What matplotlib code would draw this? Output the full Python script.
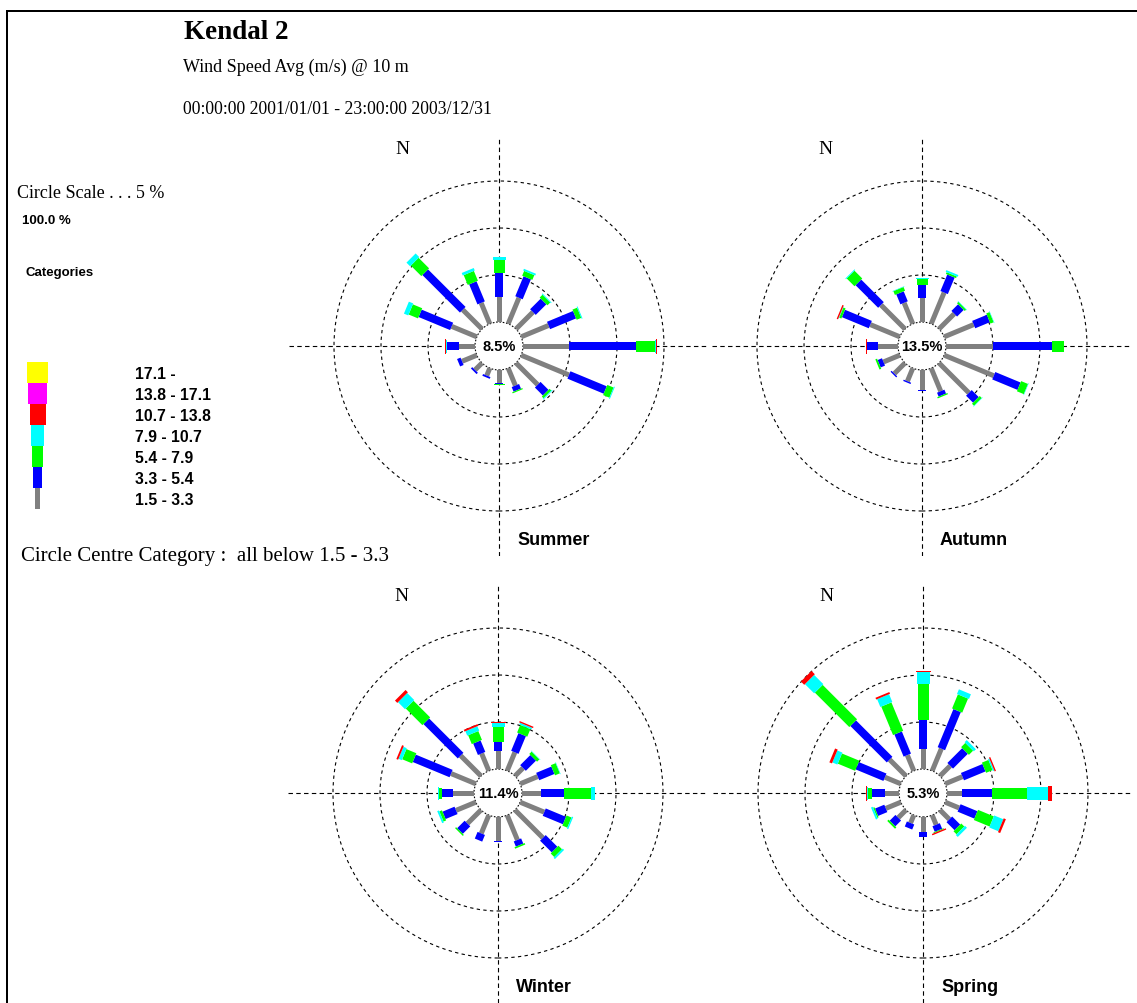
import numpy as np
import matplotlib
matplotlib.use("Agg")
import matplotlib.pyplot as plt
from matplotlib.patches import Circle, Polygon, Rectangle

W, H = 1137, 1004

DIRECTIONS = ["N", "NNE", "NE", "ENE", "E", "ESE", "SE", "SSE",
              "S", "SSW", "SW", "WSW", "W", "WNW", "NW", "NNW"]

# speed classes, fastest first (legend order)
CATEGORY_LABELS = ["17.1 -", "13.8 - 17.1", "10.7 - 13.8", "7.9 - 10.7",
                   "5.4 - 7.9", "3.3 - 5.4", "1.5 - 3.3"]
CATEGORY_COLORS = ["#ffff00", "#ff00ff", "#ff0000", "#00ffff",
                   "#00ff00", "#0000ff", "#808080"]

SEASONS = ["Summer", "Autumn", "Winter", "Spring"]
CALM = [8.5, 13.5, 11.4, 5.3]

# frequency (%) per direction, classes 1.5-3.3, 3.3-5.4, 5.4-7.9, 7.9-10.7, 10.7-13.8
SUMMER = [
    [2.66, 2.55, 1.40, 0.30, 0.00],
    [3.00, 2.30, 0.55, 0.20, 0.00],
    [2.55, 1.60, 0.42, 0.10, 0.00],
    [3.15, 3.00, 0.53, 0.10, 0.00],
    [4.93, 7.10, 2.00, 0.10, 0.10],
    [5.50, 4.18, 0.72, 0.10, 0.00],
    [3.27, 1.20, 0.25, 0.10, 0.00],
    [2.00, 0.53, 0.13, 0.00, 0.00],
    [1.38, 0.10, 0.08, 0.00, 0.00],
    [0.85, 0.20, 0.00, 0.00, 0.00],
    [1.05, 0.20, 0.00, 0.00, 0.00],
    [1.70, 0.40, 0.00, 0.00, 0.00],
    [1.70, 1.24, 0.05, 0.05, 0.10],
    [2.90, 3.63, 1.08, 0.50, 0.00],
    [2.90, 5.65, 1.58, 0.55, 0.00],
    [2.41, 2.31, 1.13, 0.29, 0.00],
]
AUTUMN = [
    [2.60, 1.34, 0.60, 0.14, 0.00],
    [3.60, 1.90, 0.20, 0.20, 0.00],
    [2.30, 1.00, 0.20, 0.05, 0.00],
    [3.40, 1.69, 0.37, 0.05, 0.00],
    [5.03, 6.25, 1.31, 0.00, 0.00],
    [5.71, 2.91, 0.79, 0.05, 0.00],
    [4.50, 1.05, 0.30, 0.05, 0.00],
    [2.65, 0.45, 0.14, 0.00, 0.00],
    [2.16, 0.10, 0.00, 0.00, 0.00],
    [1.50, 0.15, 0.00, 0.00, 0.00],
    [1.60, 0.15, 0.00, 0.00, 0.00],
    [1.88, 0.50, 0.20, 0.00, 0.00],
    [2.10, 1.17, 0.05, 0.00, 0.12],
    [3.40, 3.09, 0.25, 0.05, 0.15],
    [3.62, 3.40, 1.17, 0.10, 0.00],
    [2.42, 1.15, 0.43, 0.05, 0.00],
]
WINTER = [
    [1.88, 0.99, 1.57, 0.45, 0.12],
    [2.13, 2.04, 0.88, 0.20, 0.15],
    [1.21, 1.53, 0.35, 0.05, 0.00],
    [2.02, 1.75, 0.56, 0.05, 0.00],
    [1.99, 2.48, 2.90, 0.36, 0.00],
    [2.77, 2.33, 0.57, 0.15, 0.00],
    [4.20, 1.76, 0.54, 0.20, 0.00],
    [2.85, 0.60, 0.17, 0.00, 0.00],
    [2.52, 0.10, 0.00, 0.00, 0.00],
    [2.10, 0.77, 0.00, 0.00, 0.00],
    [2.04, 1.13, 0.15, 0.00, 0.00],
    [2.28, 1.38, 0.30, 0.20, 0.00],
    [2.27, 1.13, 0.28, 0.15, 0.00],
    [2.85, 4.24, 1.15, 0.38, 0.20],
    [3.07, 5.17, 2.50, 1.06, 0.35],
    [2.00, 1.32, 1.02, 0.51, 0.20],
]
SPRING = [
    [2.16, 3.02, 3.86, 1.25, 0.12],
    [2.55, 4.39, 1.62, 0.54, 0.00],
    [1.54, 2.23, 0.63, 0.32, 0.00],
    [1.99, 2.48, 0.75, 0.15, 0.15],
    [1.60, 3.19, 3.69, 2.23, 0.43],
    [1.60, 1.94, 1.82, 1.05, 0.25],
    [1.41, 1.21, 0.45, 0.30, 0.00],
    [1.10, 0.64, 0.10, 0.00, 0.15],
    [1.56, 0.53, 0.00, 0.00, 0.00],
    [0.90, 0.58, 0.00, 0.00, 0.00],
    [1.17, 0.87, 0.20, 0.00, 0.00],
    [1.73, 1.07, 0.15, 0.20, 0.00],
    [1.49, 1.41, 0.36, 0.10, 0.12],
    [1.83, 3.19, 2.00, 0.58, 0.30],
    [2.47, 5.48, 5.18, 1.39, 0.50],
    [1.81, 2.55, 3.28, 0.90, 0.20],
]
SEASON_DATA = [SUMMER, AUTUMN, WINTER, SPRING]

# layout (pixels)
CENTRES = [(499, 347), (922, 347), (498, 794), (923, 794)]
PX_PER_PCT = 9.4
CALM_PX = 24
HALF_PX = 210
RING_STEP = 5
BAR_PX = [5, 8, 11, 13, 15]          # slowest class first
LEGEND_PX = [21, 19, 16, 13, 11, 9, 5]

SERIF = "Liberation Serif"
SANS = "Liberation Sans"
PT = 0.72  # points per pixel at 100 dpi


def bar_segment(theta, r0, r1, half_w):
    ux, uy = np.sin(theta), np.cos(theta)
    nx_, ny_ = np.cos(theta), -np.sin(theta)
    return [(ux * r0 + nx_ * half_w, uy * r0 + ny_ * half_w),
            (ux * r1 + nx_ * half_w, uy * r1 + ny_ * half_w),
            (ux * r1 - nx_ * half_w, uy * r1 - ny_ * half_w),
            (ux * r0 - nx_ * half_w, uy * r0 - ny_ * half_w)]


def draw_rose(fig, centre, data, calm):
    cx, cy = centre
    ax = fig.add_axes([(cx - HALF_PX) / W, 1 - (cy + HALF_PX) / H,
                       2 * HALF_PX / W, 2 * HALF_PX / H])
    ax.set_facecolor("none")
    ax.axis("off")
    ext = HALF_PX / PX_PER_PCT
    ax.set_xlim(-ext, ext)
    ax.set_ylim(-ext, ext)

    r_calm = CALM_PX / PX_PER_PCT
    ax.plot([-ext, ext], [0, 0], color="black", lw=0.8, ls=(0, (4, 3)), zorder=1)
    ax.plot([0, 0], [-ext, ext], color="black", lw=0.8, ls=(0, (4, 3)), zorder=1)
    for k in range(1, 4):
        ax.add_patch(Circle((0, 0), r_calm + RING_STEP * k, fill=False,
                            ec="black", lw=0.8, ls=(0, (3, 3)), zorder=1))

    colors = CATEGORY_COLORS[::-1]
    for i, row in enumerate(data):
        theta = np.radians(22.5 * i)
        r = r_calm
        for j, v in enumerate(row):
            if v <= 0:
                continue
            half_w = BAR_PX[j] / 2 / PX_PER_PCT
            ax.add_patch(Polygon(bar_segment(theta, r, r + v, half_w),
                                 closed=True, fc=colors[j], ec="none", zorder=3))
            r += v

    ax.add_patch(Circle((0, 0), r_calm, fc="white", ec="black", lw=0.8,
                        ls=(0, (1.5, 1.5)), zorder=2))
    ax.text(0, 0, f"{calm}%", ha="center", va="center", family=SANS,
            weight="bold", fontsize=10.5, zorder=5)
    return ax


fig = plt.figure(figsize=(W / 100, H / 100), dpi=100)
canvas = fig.add_axes([0, 0, 1, 1])
canvas.set_xlim(0, W)
canvas.set_ylim(H, 0)
canvas.axis("off")

# frame
canvas.plot([7, W], [12, 12], color="black", lw=2 * PT)
canvas.plot([7, 7], [12, H], color="black", lw=2 * PT)

canvas.text(184, 39, "Kendal 2", family=SERIF, weight="bold", fontsize=19.5, va="baseline")
canvas.text(183, 72, "Wind Speed Avg (m/s) @ 10 m", family=SERIF, fontsize=13, va="baseline")
canvas.text(183, 114, "00:00:00 2001/01/01 - 23:00:00 2003/12/31", family=SERIF,
            fontsize=12.7, va="baseline")
canvas.text(17, 198, "Circle Scale . . . 5 %", family=SERIF, fontsize=13, va="baseline")
canvas.text(22, 224, "100.0 %", family=SANS, weight="bold", fontsize=9.5, va="baseline")
canvas.text(26, 276, "Categories", family=SANS, weight="bold", fontsize=9.5, va="baseline")

# legend: stacked swatches with class labels
for i, (label, color) in enumerate(zip(CATEGORY_LABELS, CATEGORY_COLORS)):
    w = LEGEND_PX[i]
    top = 363 + 21 * i
    canvas.add_patch(Rectangle((37.5 - w / 2, top), w, 21, fc=color, ec="none"))
    canvas.text(135, top + 11.2, label, family=SANS, weight="bold", fontsize=11.3,
                va="center")

canvas.text(21, 561.5, "Circle Centre Category :  all below 1.5 - 3.3", family=SERIF,
            fontsize=15, va="baseline")

for season, data, calm, (cx, cy) in zip(SEASONS, SEASON_DATA, CALM, CENTRES):
    draw_rose(fig, (cx, cy), data, calm)
    canvas.text(cx - 97, cy - 197, "N", family=SERIF, fontsize=14, ha="center", va="center")
    canvas.text(cx + 18, cy + 194, season, family=SANS, weight="bold", fontsize=13,
                va="center")

fig.savefig("out.png", dpi=100, facecolor="white")
